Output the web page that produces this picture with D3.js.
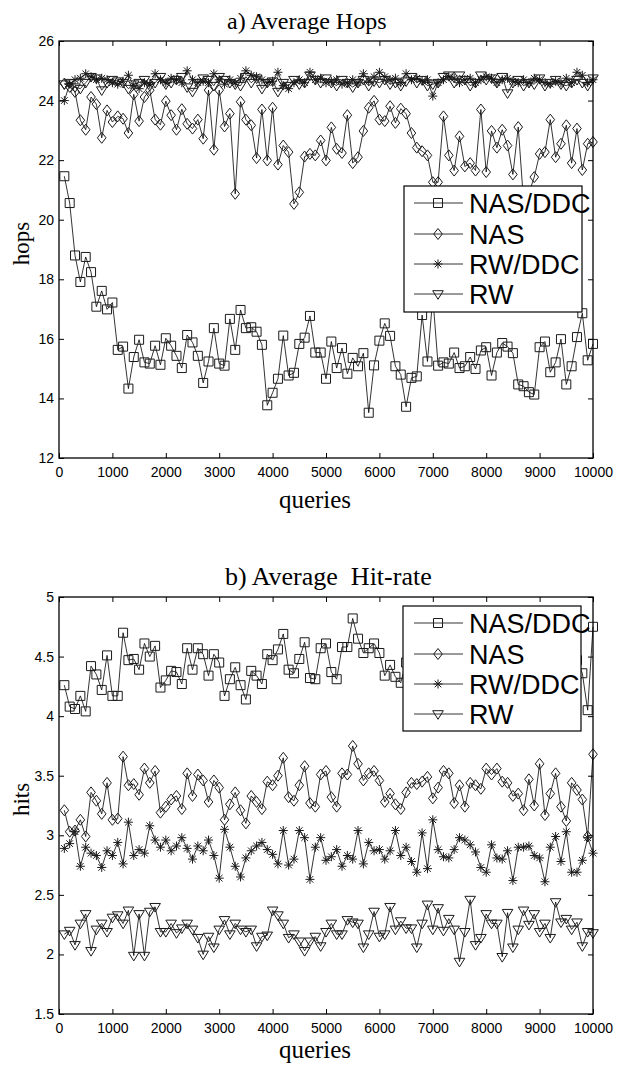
<!DOCTYPE html>
<html><head><meta charset="utf-8">
<script src="https://cdn.jsdelivr.net/npm/d3@7"></script>
<style>
html,body{margin:0;padding:0;background:#fff;}
svg{display:block;}
</style></head>
<body>
<svg id="chart" width="619" height="1065"></svg>
<script>
// ---------------- data ----------------
const queries = d3.range(100, 10001, 100);
const xTicks = [0,1000,2000,3000,4000,5000,6000,7000,8000,9000,10000];
const seriesNames = ["NAS/DDC","NAS","RW/DDC","RW"];

const hopsTicks = [12,14,16,18,20,22,24,26];
const hopsNasDdc = [21.46,20.56,18.8,17.91,18.75,18.24,17.08,17.61,16.99,17.22,
15.63,15.74,14.33,15.39,15.97,15.21,15.17,15.77,15.13,16.02,
15.77,15.43,15.02,16.13,15.88,15.43,14.52,15.24,16.36,15.17,
15.1,16.67,15.63,16.97,16.36,16.39,16.24,15.8,13.77,14.19,
14.66,16.11,14.77,14.86,15.83,16.04,16.77,15.54,15.54,14.66,
15.91,15.02,15.69,14.83,15.36,15.08,15.52,13.52,15.11,15.94,
16.52,16.1,15.08,14.8,13.72,14.69,14.74,16.8,15.24,17.4,
15.1,15.21,15.17,15.54,15.02,15.08,15.39,14.99,15.61,15.72,
14.77,15.54,15.86,15.74,15.52,14.47,14.41,14.21,14.13,15.72,
15.91,14.88,15.21,15.99,14.47,15.08,16.06,16.86,15.28,15.83];
const hopsNas = [24.57,24.46,24.29,23.34,23.02,24.12,23.88,22.75,23.67,23.28,
23.47,23.39,22.91,24.21,23.31,24.12,24.35,23.36,23.19,23.98,
23.51,23.02,23.71,23.22,23.06,23.36,22.72,24.35,22.35,24.35,
23.13,23.56,20.87,23.96,23.36,23.17,22.07,23.7,21.99,23.76,
21.85,22.49,22.27,20.53,20.92,22.12,22.21,22.16,22.66,21.99,
23.1,22.38,22.24,23.51,21.9,22.1,22.98,23.76,23.99,23.36,
23.31,23.81,23.25,23.73,23.56,22.91,22.42,22.3,22.16,21.26,
21.26,23.47,22.16,21.65,22.8,21.79,21.9,21.65,23.7,21.6,
22.98,22.42,23.02,22.49,21.52,23.11,20.6,20.9,21.43,22.21,
22.27,23.36,22.1,22.55,23.17,21.9,23.06,21.67,22.55,22.61];
const hopsRwDdc = [24.0,24.55,24.7,24.75,24.9,24.8,24.7,24.75,24.7,24.6,
24.55,24.65,24.85,24.5,24.4,24.6,24.55,24.9,24.7,24.6,
24.75,24.7,24.6,25.0,24.7,24.6,24.65,24.6,24.9,24.7,
24.55,24.7,24.6,24.75,25.0,24.85,24.8,24.7,24.6,24.65,
24.95,24.5,24.4,24.6,24.7,24.6,24.95,24.7,24.75,24.6,
24.65,24.7,24.55,24.6,24.7,24.6,24.9,24.65,24.8,24.95,
24.8,24.7,24.75,24.6,24.9,24.7,24.75,24.65,24.7,24.15,
24.6,24.7,24.8,24.75,24.6,24.7,24.75,24.6,24.7,24.8,
24.75,24.6,24.7,24.75,24.65,24.6,24.7,24.6,24.75,24.7,
24.6,24.55,24.65,24.6,24.75,24.6,24.95,24.85,24.6,24.7];
const hopsRw = [24.55,24.6,24.45,24.4,24.6,24.8,24.75,24.35,24.6,24.7,
24.65,24.6,24.4,24.55,24.6,24.7,24.5,24.6,24.8,24.55,
24.6,24.7,24.8,24.45,24.3,24.6,24.75,24.7,24.5,24.8,
24.7,24.6,24.55,24.5,24.8,24.6,24.75,24.4,24.6,24.65,
24.3,24.6,24.5,24.7,24.55,24.6,24.85,24.7,24.6,24.75,
24.6,24.5,24.7,24.6,24.45,24.6,24.7,24.5,24.65,24.6,
24.7,24.55,24.6,24.5,24.65,24.8,24.6,24.7,24.5,24.55,
24.6,24.8,24.85,24.6,24.85,24.7,24.5,24.6,24.85,24.7,
24.75,24.6,24.8,24.25,24.6,24.7,24.5,24.6,24.55,24.75,
24.5,24.6,24.7,24.55,24.5,24.6,24.7,24.6,24.5,24.75];

const hitsTicks = [1.5,2,2.5,3,3.5,4,4.5,5];
const hitsNasDdc = [4.26,4.08,4.06,4.17,4.04,4.42,4.35,4.22,4.51,4.17,
4.17,4.7,4.47,4.48,4.39,4.61,4.5,4.59,4.24,4.3,
4.38,4.37,4.27,4.57,4.39,4.57,4.52,4.34,4.52,4.45,
4.17,4.31,4.41,4.26,4.14,4.38,4.34,4.27,4.52,4.47,
4.56,4.69,4.39,4.36,4.48,4.62,4.32,4.31,4.57,4.61,
4.37,4.31,4.58,4.58,4.82,4.65,4.53,4.57,4.61,4.53,
4.34,4.43,4.33,4.28,4.45,4.38,4.52,4.41,4.6,4.35,
4.48,4.55,4.4,4.62,4.45,4.33,4.5,4.58,4.42,4.36,
4.55,4.47,4.6,4.39,4.44,4.52,4.31,4.49,4.57,4.4,
4.46,4.35,4.54,4.43,4.5,4.38,4.47,4.36,4.05,4.75];
const hitsNas = [3.21,3.03,3.04,3.13,2.99,3.36,3.29,3.18,3.44,3.13,
3.14,3.66,3.42,3.43,3.34,3.56,3.44,3.54,3.19,3.24,
3.3,3.33,3.22,3.52,3.33,3.51,3.46,3.28,3.46,3.4,
3.13,3.26,3.36,3.21,3.1,3.33,3.28,3.22,3.45,3.42,
3.5,3.65,3.32,3.29,3.42,3.58,3.27,3.24,3.51,3.54,
3.32,3.24,3.52,3.51,3.75,3.6,3.46,3.52,3.54,3.46,
3.28,3.35,3.26,3.22,3.36,3.44,3.43,3.45,3.49,3.31,
3.4,3.54,3.52,3.27,3.42,3.24,3.44,3.42,3.39,3.56,
3.51,3.56,3.45,3.44,3.33,3.35,3.21,3.47,3.25,3.6,
3.17,3.35,3.52,3.24,3.12,3.44,3.38,3.3,2.99,3.68];
const hitsRwDdc = [2.89,2.93,3.03,2.74,2.9,2.85,2.83,2.73,2.87,2.83,
2.94,2.76,3.11,2.83,2.88,2.85,3.08,2.96,2.9,2.96,
2.87,2.91,2.98,2.89,2.8,2.91,2.87,2.96,2.83,2.64,
3.05,2.9,2.74,2.65,2.81,2.87,2.91,2.94,2.88,2.84,
2.76,3.04,2.75,2.8,3.04,2.98,2.63,2.9,2.98,2.79,
2.82,2.88,2.74,2.83,2.8,3.04,2.76,2.94,2.87,2.88,
2.8,2.87,3.04,2.83,2.9,2.78,2.69,3.02,2.72,3.13,
2.88,2.82,2.81,2.88,2.98,2.96,2.92,2.86,2.73,2.69,
2.92,2.81,2.8,2.87,2.62,2.9,2.9,2.91,2.83,2.81,
2.61,2.9,2.99,2.78,3.03,2.69,2.69,2.79,2.98,2.85];
const hitsRw = [2.17,2.2,2.08,2.26,2.34,2.03,2.21,2.26,2.19,2.31,
2.33,2.26,2.37,1.99,2.34,1.99,2.36,2.4,2.19,2.19,
2.26,2.18,2.22,2.26,2.21,2.14,2.0,2.15,2.06,2.21,
2.29,2.17,2.26,2.21,2.19,2.21,2.07,2.15,2.16,2.37,
2.33,2.26,2.14,2.17,2.11,2.03,2.11,2.15,2.07,2.19,
2.26,2.17,2.17,2.29,2.27,2.26,2.06,2.17,2.36,2.15,
2.17,2.4,2.21,2.28,2.22,2.22,2.06,2.26,2.42,2.21,
2.39,2.2,2.3,2.21,1.94,2.19,2.46,2.08,2.14,2.34,
2.26,2.26,1.98,2.35,2.06,2.21,2.37,2.25,2.34,2.19,
2.26,2.14,2.44,2.27,2.3,2.21,2.27,2.07,2.19,2.18];

// ---------------- drawing ----------------
const svg = d3.select("#chart");
const markerPaths = {
  square: "M-4.5,-4.5H4.5V4.5H-4.5Z",
  diamond: "M0,-5.5L4.3,0L0,5.5L-4.3,0Z",
  star: "M-4.5,0H4.5M0,-4.5V4.5M-3.3,-3.3L3.3,3.3M-3.3,3.3L3.3,-3.3",
  tri: "M-5.3,-3.3L5.3,-3.3L0,5.3Z"
};
const markerKinds = ["square","diamond","star","tri"];

function drawPanel(cfg) {
  const left = 59, right = 593, top = cfg.top, bottom = cfg.top + 417;
  const x = d3.scaleLinear().domain([0, 10000]).range([left, right]);
  const y = d3.scaleLinear().domain(cfg.yDomain).range([bottom, top]);
  const g = svg.append("g");

  // series
  const line = d3.line().x((d,i) => x(queries[i])).y(d => y(d));
  cfg.series.forEach((vals, si) => {
    g.append("path").attr("d", line(vals))
      .attr("fill", "none").attr("stroke", "#000").attr("stroke-width", 0.8);
    g.selectAll(null).data(vals).enter().append("path")
      .attr("transform", (d,i) => `translate(${x(queries[i])},${y(d)})`)
      .attr("d", markerPaths[markerKinds[si]])
      .attr("fill", "none").attr("stroke", "#1a1a1a").attr("stroke-width", 1);
  });

  // axes
  const fontTick = "14px 'Liberation Sans', Arial, sans-serif";
  const ax = g.append("g").attr("transform", `translate(0,${bottom})`)
    .call(d3.axisBottom(x).tickValues(xTicks).tickSize(-5).tickPadding(9).tickFormat(d3.format("d")));
  const ax2 = g.append("g").attr("transform", `translate(0,${top})`)
    .call(d3.axisTop(x).tickValues(xTicks).tickSize(-5).tickFormat(""));
  const ay = g.append("g").attr("transform", `translate(${left},0)`)
    .call(d3.axisLeft(y).tickValues(cfg.yTicks).tickSize(-5).tickPadding(5).tickFormat(d => String(d)));
  const ay2 = g.append("g").attr("transform", `translate(${right},0)`)
    .call(d3.axisRight(y).tickValues(cfg.yTicks).tickSize(-5).tickFormat(""));
  [ax, ax2, ay, ay2].forEach(a => {
    a.select(".domain").remove();
    a.selectAll("line").attr("stroke", "#000").attr("stroke-width", 1);
    a.selectAll("text").style("font", fontTick).attr("fill", "#000");
  });
  g.append("rect").attr("x", left).attr("y", top).attr("width", right-left).attr("height", bottom-top)
    .attr("fill", "none").attr("stroke", "#000").attr("stroke-width", 1.3);

  // title and labels
  const serif = "'Liberation Serif', 'Times New Roman', serif";
  g.append("text").attr("x", cfg.titleX).attr("y", top - 12)
    .style("white-space", "pre")
    .style("font-family", serif).style("font-size", cfg.titleSize + "px").text(cfg.title);
  g.append("text").attr("x", 315).attr("y", bottom + cfg.qOffset).attr("text-anchor", "middle")
    .style("font-family", serif).style("font-size", "25px").text("queries");
  g.append("text").attr("transform", `translate(29,${(top+bottom)/2 - 6}) rotate(-90)`)
    .attr("text-anchor", "middle")
    .style("font-family", serif).style("font-size", "23px").text(cfg.ylabel);

  // legend
  const L = cfg.legend;
  const lg = g.append("g");
  lg.append("rect").attr("x", L.x0).attr("y", L.y0).attr("width", L.x1 - L.x0).attr("height", L.y1 - L.y0)
    .attr("fill", "#fff").attr("stroke", "#000").attr("stroke-width", 1.2);
  seriesNames.forEach((name, i) => {
    const cy = L.rows[i];
    lg.append("line").attr("x1", 414).attr("x2", 463).attr("y1", cy).attr("y2", cy)
      .attr("stroke", "#000").attr("stroke-width", 0.8);
    lg.append("path").attr("transform", `translate(438,${cy})`).attr("d", markerPaths[markerKinds[i]])
      .attr("fill", "none").attr("stroke", "#1a1a1a").attr("stroke-width", 1);
    lg.append("text").attr("x", 469).attr("y", cy + 9.5)
      .style("font-family", "'Liberation Sans', Arial, sans-serif").style("font-size", "27px")
      .text(name);
  });
}

drawPanel({
  top: 41, yDomain: [12, 26], yTicks: hopsTicks,
  series: [hopsNasDdc, hopsNas, hopsRwDdc, hopsRw],
  title: "a) Average Hops", titleX: 227, titleSize: 24, qOffset: 50,
  ylabel: "hops",
  legend: {x0: 404, x1: 582, y0: 186, y1: 312, rows: [203, 234, 264, 294]}
});
drawPanel({
  top: 597, yDomain: [1.5, 5], yTicks: hitsTicks,
  series: [hitsNasDdc, hitsNas, hitsRwDdc, hitsRw],
  title: "b) Average  Hit-rate", titleX: 225, titleSize: 26, qOffset: 44,
  ylabel: "hits",
  legend: {x0: 403, x1: 581, y0: 606, y1: 731, rows: [623, 654, 684, 714]}
});
</script>
</body></html>
